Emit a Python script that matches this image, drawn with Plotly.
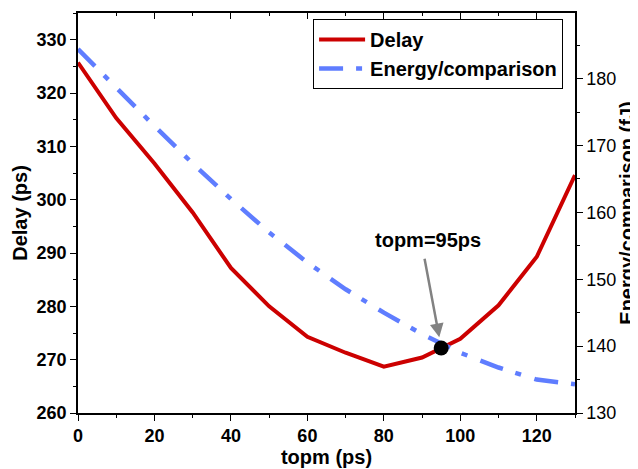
import plotly.graph_objects as go

topm = [0, 10, 20, 30, 40, 50, 60, 70, 80, 90, 100, 110, 120, 130]
delay = [325.7, 315.3, 306.8, 297.6, 287.2, 280.0, 274.3, 271.3, 268.7, 270.4, 273.9, 280.2, 289.3, 304.6]
energy = [184.4, 178.6, 172.9, 167.3, 162.0, 157.0, 152.5, 148.5, 145.0, 141.8, 139.0, 136.8, 135.0, 134.3]
opt_x = [95]
opt_delay = [272.2]

y1_range = [260, 335]
y2_range = [130, 189.8]

font = "Liberation Sans, Arial, sans-serif"
fig = go.Figure()
fig.add_trace(go.Scatter(x=topm, y=delay, mode="lines", name="<b>Delay</b>",
                         line=dict(color="rgb(204,0,0)", width=4)))
fig.add_trace(go.Scatter(x=topm, y=energy, mode="lines", name="<b>Energy/comparison</b>",
                         yaxis="y2", line=dict(color="rgb(95,125,255)", width=4.5,
                                               dash="24px,13px,6px,14px")))
# the optimum dot sits on the Delay curve; express it on the top (y2) layer so it is drawn above both lines
opt_on_y2 = [y2_range[0] + (v - y1_range[0]) * (y2_range[1] - y2_range[0]) / (y1_range[1] - y1_range[0])
             for v in opt_delay]
fig.add_trace(go.Scatter(x=opt_x, y=opt_on_y2, yaxis="y2", mode="markers", showlegend=False,
                         marker=dict(color="black", size=15)))
fig.add_trace(go.Scatter(x=[0], y=[0], xaxis="x2", showlegend=False, hoverinfo="skip",
                         mode="markers", marker=dict(opacity=0)))

axis_common = dict(showgrid=False, zeroline=False, showline=True, linecolor="black", linewidth=1.5,
                   tickfont=dict(family=font, size=18, color="black"), tickcolor="black",
                   automargin=False)

# the page body has an 8px margin, so the figure is shrunk by 8px and margins offset
fig.update_layout(
    width=630, height=461,
    margin=dict(l=70, r=63, t=5, b=56),
    paper_bgcolor="white", plot_bgcolor="white",
    font=dict(family=font, color="black"),
    xaxis=dict(range=[0, 130], dtick=20, ticks="outside", ticklen=6, tickprefix="<b>", ticksuffix="</b>",
               minor=dict(dtick=10, ticks="outside", ticklen=3, tickcolor="black"),
               title=dict(text="<b>topm (ps)</b>", font=dict(size=20, family=font), standoff=2),
               **axis_common),
    xaxis2=dict(range=[0, 130], dtick=20, ticks="inside", ticklen=6, overlaying="x", side="top",
                showticklabels=False, minor=dict(dtick=10, ticks="inside", ticklen=3, tickcolor="black"),
                **axis_common),
    yaxis=dict(range=y1_range, dtick=10, ticks="outside", ticklen=6, tickprefix="<b>", ticksuffix="</b>",
               minor=dict(dtick=5, ticks="outside", ticklen=3, tickcolor="black"),
               title=dict(text="<b>Delay (ps)</b>", font=dict(size=20, family=font), standoff=4),
               **axis_common),
    yaxis2=dict(range=y2_range, dtick=10, ticks="outside", ticklen=6, overlaying="y", side="right",
                tickprefix="<b>", ticksuffix="</b>", tickvals=[130, 140, 150, 160, 170, 180],
                minor=dict(dtick=5, ticks="outside", ticklen=3, tickcolor="black"),
                title=dict(text="<b>Energy/comparison (fJ)</b>", font=dict(size=20, family=font), standoff=5),
                **axis_common),
    legend=dict(x=0.473, y=0.985, xanchor="left", yanchor="top", bgcolor="white",
                bordercolor="black", borderwidth=1, font=dict(size=20, family=font, color="black"),
                tracegroupgap=0, itemwidth=46),
    showlegend=True,
)
fig.add_annotation(x=94.5, y=274.2, xref="x", yref="y", ax=-15, ay=-80,
                   text="", showarrow=True, arrowhead=2, arrowsize=1.1, arrowwidth=2.5,
                   arrowcolor="rgb(130,130,130)", standoff=0)
fig.add_annotation(x=91.6, y=292.4, xref="x", yref="y", text="<b>topm=95ps</b>", showarrow=False,
                   font=dict(size=20, family=font, color="black"))
fig.write_html("out.html")
